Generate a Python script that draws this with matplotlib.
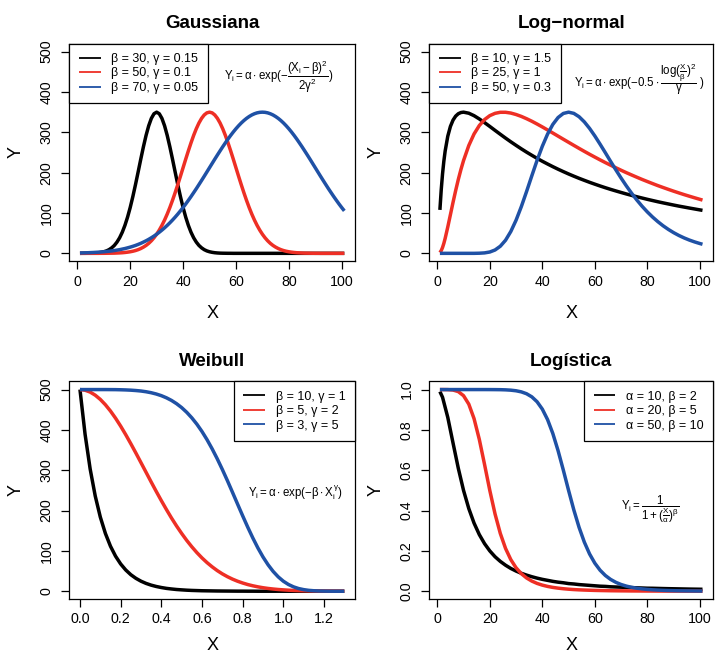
import matplotlib
matplotlib.use("Agg")
import matplotlib.pyplot as plt

plt.rcParams["font.family"] = ["Liberation Sans", "DejaVu Sans"]
plt.rcParams["mathtext.fontset"] = "custom"
plt.rcParams["mathtext.rm"] = "Liberation Sans"
plt.rcParams["mathtext.it"] = "Liberation Sans"
plt.rcParams["mathtext.bf"] = "Liberation Sans:bold"
plt.rcParams["mathtext.sf"] = "Liberation Sans"

# ---- Gaussiana (X = 1..101) ----
gauss_x = list(range(1, 102))
gauss_b30 = [0, 0.1, 0.1, 0.2, 0.3, 0.5, 0.9, 1.5, 2.5, 3.9,
             6.0, 9.1, 13.6, 19.6, 27.9, 38.6, 52.3, 69.3, 89.7, 113.6,
             140.7, 170.4, 201.7, 233.5, 264.2, 292.4, 316.3, 334.6, 346.1, 350,
             346.1, 334.6, 316.3, 292.4, 264.2, 233.5, 201.7, 170.4, 140.7, 113.6,
             89.7, 69.3, 52.3, 38.6, 27.9, 19.6, 13.6, 9.1, 6.0, 3.9,
             2.5, 1.5, 0.9, 0.5, 0.3, 0.2, 0.1, 0.1, 0, 0,
             0, 0, 0, 0, 0, 0, 0, 0, 0, 0,
             0, 0, 0, 0, 0, 0, 0, 0, 0, 0,
             0, 0, 0, 0, 0, 0, 0, 0, 0, 0,
             0, 0, 0, 0, 0, 0, 0, 0, 0, 0, 0]
gauss_b50 = [0, 0, 0, 0, 0, 0, 0, 0, 0.1, 0.1,
             0.2, 0.3, 0.4, 0.5, 0.8, 1.1, 1.5, 2.1, 2.9, 3.9,
             5.2, 6.9, 9.1, 11.9, 15.4, 19.6, 24.8, 31.1, 38.6, 47.4,
             57.6, 69.3, 82.5, 97.3, 113.6, 131.4, 150.4, 170.4, 191.1, 212.3,
             233.5, 254.1, 273.9, 292.4, 308.9, 323.1, 334.6, 343.1, 348.3, 350,
             348.3, 343.1, 334.6, 323.1, 308.9, 292.4, 273.9, 254.1, 233.5, 212.3,
             191.1, 170.4, 150.4, 131.4, 113.6, 97.3, 82.5, 69.3, 57.6, 47.4,
             38.6, 31.1, 24.8, 19.6, 15.4, 11.9, 9.1, 6.9, 5.2, 3.9,
             2.9, 2.1, 1.5, 1.1, 0.8, 0.5, 0.4, 0.3, 0.2, 0.1,
             0.1, 0, 0, 0, 0, 0, 0, 0, 0, 0, 0]
gauss_b70 = [0.9, 1.1, 1.3, 1.5, 1.8, 2.1, 2.5, 2.9, 3.3, 3.9,
             4.5, 5.2, 6.0, 6.9, 8.0, 9.1, 10.5, 11.9, 13.6, 15.4,
             17.4, 19.6, 22.1, 24.8, 27.9, 31.1, 34.7, 38.6, 42.8, 47.4,
             52.3, 57.6, 63.2, 69.3, 75.7, 82.5, 89.7, 97.3, 105.3, 113.6,
             122.3, 131.4, 140.7, 150.4, 160.2, 170.4, 180.7, 191.1, 201.7, 212.3,
             222.9, 233.5, 243.9, 254.1, 264.2, 273.9, 283.4, 292.4, 300.9, 308.9,
             316.3, 323.1, 329.2, 334.6, 339.2, 343.1, 346.1, 348.3, 349.6, 350,
             349.6, 348.3, 346.1, 343.1, 339.2, 334.6, 329.2, 323.1, 316.3, 308.9,
             300.9, 292.4, 283.4, 273.9, 264.2, 254.1, 243.9, 233.5, 222.9, 212.3,
             201.7, 191.1, 180.7, 170.4, 160.2, 150.4, 140.7, 131.4, 122.3, 113.6, 105.3]
gauss_labels = ["β = 30, γ = 0.15", "β = 50, γ = 0.1", "β = 70, γ = 0.05"]

# ---- Log-normal ----
lnorm_x = [1, 1.5, 2, 2.5, 3, 4, 5, 6, 7, 8, 9, 10, 12, 14, 16, 18, 20, 22, 24, 26, 28, 30,
           32, 34, 36, 38, 40, 42, 44, 46, 48, 50, 52, 54, 56, 58, 60, 62, 64, 66, 68, 70,
           72, 74, 76, 78, 80, 82, 84, 86, 88, 90, 92, 94, 96, 98, 100, 101]
lnorm_b10 = [107.7, 157.3, 196.8, 228.3, 253.6, 290.4, 314.6, 330.3, 340.2, 346.1, 349.1, 350,
             347.4, 341.3, 333.2, 324.1, 314.6, 304.8, 295.2, 285.7, 276.5, 267.7, 259.1,
             250.9, 243.1, 235.5, 228.3, 221.5, 214.9, 208.6, 202.6, 196.8, 191.3, 186.0,
             181.0, 176.1, 171.5, 167.0, 162.7, 158.6, 154.7, 150.9, 147.2, 143.7, 140.3,
             137.1, 133.9, 130.9, 127.9, 125.1, 122.4, 119.7, 117.1, 114.7, 112.3, 110.0,
             107.7, 106.6]
lnorm_b25 = [2.0, 6.7, 14.4, 24.7, 37.0, 65.3, 95.8, 126.4, 155.6, 182.9, 207.7, 230.0,
             267.3, 295.9, 316.8, 331.6, 341.4, 347.1, 349.7, 349.7, 347.8, 344.2, 339.5,
             333.8, 327.5, 320.6, 313.4, 305.9, 298.3, 290.6, 282.9, 275.3, 267.7, 260.2,
             252.8, 245.6, 238.6, 231.7, 225.0, 218.5, 212.2, 206.0, 200.0, 194.3, 188.7,
             183.2, 178.0, 172.9, 167.9, 163.2, 158.6, 154.1, 149.8, 145.6, 141.6, 137.7,
             133.9, 132.0]
lnorm_b50 = [0, 0, 0, 0, 0, 0, 0, 0, 0, 0, 0, 0,
             0, 0, 0.3, 1.1, 3.3, 8.3, 17.6, 32.5, 54.1, 82.1, 115.7, 153.2, 192.2, 230.4,
             265.4, 295.6, 319.6, 336.7, 346.8, 350, 347.0, 338.7, 325.9, 309.7, 291.0,
             270.6, 249.5, 228.0, 207.0, 186.6, 167.2, 149.0, 132.2, 116.7, 102.6, 89.9,
             78.5, 68.3, 59.3, 51.3, 44.3, 38.2, 32.9, 28.3, 24.3, 22.5]
lnorm_labels = ["β = 10, γ = 1.5", "β = 25, γ = 1", "β = 50, γ = 0.3"]

# ---- Weibull ----
weib_x = [0, 0.025, 0.05, 0.075, 0.1, 0.125, 0.15, 0.175, 0.2, 0.225, 0.25, 0.275, 0.3,
          0.325, 0.35, 0.375, 0.4, 0.425, 0.45, 0.475, 0.5, 0.525, 0.55, 0.575, 0.6, 0.625,
          0.65, 0.675, 0.7, 0.725, 0.75, 0.775, 0.8, 0.825, 0.85, 0.875, 0.9, 0.925, 0.95,
          0.975, 1.0, 1.025, 1.05, 1.075, 1.1, 1.125, 1.15, 1.175, 1.2, 1.225, 1.25, 1.275, 1.3]
weib_b10 = [500, 389.4, 303.3, 236.2, 183.9, 143.3, 111.6, 86.9, 67.7, 52.7, 41.0, 32.0,
            24.9, 19.4, 15.1, 11.8, 9.2, 7.1, 5.6, 4.3, 3.4, 2.6, 2.0, 1.6, 1.2, 1.0, 0.8,
            0.6, 0.5, 0.4, 0.3, 0.2, 0.2, 0.1, 0.1, 0, 0, 0, 0, 0, 0, 0, 0, 0, 0, 0, 0, 0,
            0, 0, 0, 0, 0]
weib_b5 = [500, 498.4, 493.8, 486.1, 475.6, 462.4, 446.8, 429.0, 409.4, 388.2, 365.8, 342.6,
           318.8, 294.9, 271.0, 247.5, 224.7, 202.7, 181.6, 161.8, 143.3, 126.0, 110.2, 95.7,
           82.6, 70.9, 60.5, 51.2, 43.1, 36.1, 30.0, 24.8, 20.4, 16.6, 13.5, 10.9, 8.7, 6.9,
           5.5, 4.3, 3.4, 2.6, 2.0, 1.5, 1.2, 0.9, 0.7, 0.5, 0.4, 0.3, 0.2, 0.1, 0.1]
weib_b3 = [500, 500, 500, 500, 500, 500, 499.9, 499.8, 499.5, 499.1, 498.5, 497.6, 496.4,
           494.6, 492.2, 489.0, 484.9, 479.6, 473.1, 465.0, 455.3, 443.6, 429.9, 414.1,
           396.0, 375.6, 353.0, 328.4, 302.0, 274.2, 245.3, 216.1, 187.1, 158.9, 132.1,
           107.3, 85.0, 65.6, 49.1, 35.6, 24.9, 16.8, 10.9, 6.7, 4.0, 2.2, 1.2, 0.6, 0.3,
           0.1, 0, 0, 0]
weib_labels = ["β = 10, γ = 1", "β = 5, γ = 2", "β = 3, γ = 5"]

# ---- Logistica ----
logi_x = [1, 2, 4, 6, 8, 10, 12, 14, 16, 18, 20, 22, 24, 26, 28, 30, 32, 34, 36, 38,
          40, 42, 44, 46, 48, 50, 52, 54, 56, 58, 60, 62, 64, 66, 68, 70, 72, 74, 76, 78,
          80, 82, 84, 86, 88, 90, 92, 94, 96, 98, 100, 101]
logi_a10 = [0.990, 0.962, 0.862, 0.735, 0.610, 0.500, 0.410, 0.338, 0.281, 0.236, 0.200,
            0.171, 0.148, 0.129, 0.113, 0.100, 0.089, 0.080, 0.072, 0.065, 0.059, 0.054,
            0.049, 0.045, 0.042, 0.038, 0.036, 0.033, 0.031, 0.029, 0.027, 0.025, 0.024,
            0.022, 0.021, 0.020, 0.019, 0.018, 0.017, 0.016, 0.015, 0.0147, 0.0140, 0.0133,
            0.0127, 0.0122, 0.0117, 0.0112, 0.0107, 0.0103, 0.0099, 0.0097]
logi_a20 = [1.000, 1.000, 0.9997, 0.9976, 0.9899, 0.9697, 0.9278, 0.8561, 0.7532, 0.6287,
            0.5000, 0.3831, 0.2867, 0.2122, 0.1568, 0.1164, 0.0871, 0.0658, 0.0503, 0.0388,
            0.0303, 0.0239, 0.0190, 0.0153, 0.0124, 0.0101, 0.0083, 0.0069, 0.0058, 0.0049,
            0.0041, 0.0035, 0.0030, 0.0025, 0.0022, 0.0019, 0.0017, 0.0014, 0.0013, 0.0011,
            0.0010, 0.0009, 0.0008, 0.0007, 0.0006, 0.0005, 0.0005, 0.0004, 0.0004, 0.0004,
            0.0003, 0.0003]
logi_a50 = [1.0, 1.0, 1.0, 1.0, 1.0, 1.0, 1.0, 1.0, 1.0, 1.0, 0.9999, 0.9997, 0.9994, 0.9986,
            0.9970, 0.9940, 0.9886, 0.9793, 0.9639, 0.9396, 0.9030, 0.8511, 0.7822, 0.6972,
            0.6007, 0.5000, 0.4032, 0.3166, 0.2436, 0.1848, 0.1391, 0.1042, 0.0781, 0.0586,
            0.0442, 0.0334, 0.0254, 0.0194, 0.0150, 0.0116, 0.0090, 0.0071, 0.0056, 0.0044,
            0.0035, 0.0028, 0.0022, 0.0018, 0.0015, 0.0012, 0.0010, 0.0009]
logi_labels = ["α = 10, β = 2", "α = 20, β = 5", "α = 50, β = 10"]

colors = ["black", "#ee2f25", "#1f51a5"]

formulas = {
    "gauss": r"$Y_i = \alpha \cdot exp(-\dfrac{(X_i - \beta)^2}{2\gamma^2})$",
    "lnorm": r"$Y_i = \alpha \cdot exp(-0.5 \cdot \dfrac{log(\frac{X}{\beta})^2}{\gamma}\ )$",
    "weib": r"$Y_i = \alpha \cdot exp(-\beta \cdot X_i^{\gamma})$",
    "logi": r"$Y_i = \dfrac{1}{1 + (\frac{X}{\alpha})^{\beta}}$",
}

fig = plt.figure(figsize=(7.15, 6.56), dpi=100)
W, H = 715.0, 656.0
ax_h = 217.8


def panel(left, bottom, width, title, x, series, labels, xlim, ylim, xticks, yticks,
          ytick_fmt, legend_loc, formula, fpos, xlab_off=52):
    ax = fig.add_axes([left / W, bottom / H, width / W, ax_h / H])
    for y, lab, c in zip(series, labels, colors):
        ax.plot(x, y, color=c, lw=2.5, label=lab, solid_capstyle="butt")
    ax.set_xlim(*xlim)
    ax.set_ylim(*ylim)
    ax.set_xticks(xticks)
    ax.set_yticks(yticks)
    ax.set_yticklabels([ytick_fmt.format(v) for v in yticks])
    ax.tick_params(direction="out", length=5.5, width=0.9, labelsize=10.3)
    ax.tick_params(axis="x", pad=4)
    ax.tick_params(axis="y", labelrotation=90, pad=6)
    for lab in ax.get_yticklabels():
        lab.set_va("center")
    for s in ax.spines.values():
        s.set_linewidth(0.9)
    ax.set_title(title, fontsize=13.5, fontweight="bold", pad=11)
    ax.set_xlabel("X", fontsize=13, va="center")
    ax.xaxis.set_label_coords(0.5, -xlab_off / ax_h)
    ax.set_ylabel("Y", fontsize=13, va="center")
    ax.yaxis.set_label_coords(-53.5 / width, 0.5)
    leg = ax.legend(loc=legend_loc, borderaxespad=0, fontsize=9, handlelength=1.75,
                    handletextpad=0.85, labelspacing=0.2, borderpad=0.75,
                    fancybox=False, edgecolor="black", framealpha=1)
    leg.get_frame().set_linewidth(0.9)
    for h in leg.get_lines():
        h.set_linewidth(1.3)
    ax.text(fpos[0], fpos[1], formula, fontsize=8.3, ha="center", va="center")
    return ax


ticks100 = [0, 20, 40, 60, 80, 100]
ticks500 = [0, 100, 200, 300, 400, 500]

panel(69.4, 656 - 261.4, 285.5, "Gaussiana", gauss_x, [gauss_b30, gauss_b50, gauss_b70],
      gauss_labels, (-3, 105), (-20, 520), ticks100, ticks500, "{:d}", "upper left",
      formulas["gauss"], (76, 437))
panel(429.4, 656 - 261.4, 283.6, "Log\u2212normal", lnorm_x, [lnorm_b10, lnorm_b25, lnorm_b50],
      lnorm_labels, (-3, 105), (-20, 520), ticks100, ticks500, "{:d}", "upper left",
      formulas["lnorm"], (77, 432))
weib_ax = panel(69.4, 656 - 599.3, 285.5, "Weibull", weib_x, [weib_b10, weib_b5, weib_b3],
                weib_labels, (-0.052, 1.352), (-20, 520), [0, 0.2, 0.4, 0.6, 0.8, 1.0, 1.2],
                ticks500, "{:d}", "upper right", formulas["weib"], (1.06, 244), xlab_off=46)
weib_ax.set_xticklabels(["0.0", "0.2", "0.4", "0.6", "0.8", "1.0", "1.2"])
panel(429.4, 656 - 599.3, 283.6, "Logística", logi_x, [logi_a10, logi_a20, logi_a50],
      logi_labels, (-3, 105), (-0.04, 1.04), ticks100, [0, 0.2, 0.4, 0.6, 0.8, 1.0],
      "{:.1f}", "upper right", formulas["logi"], (81, 0.404), xlab_off=46)

fig.savefig("out.png", dpi=100, facecolor="white")
